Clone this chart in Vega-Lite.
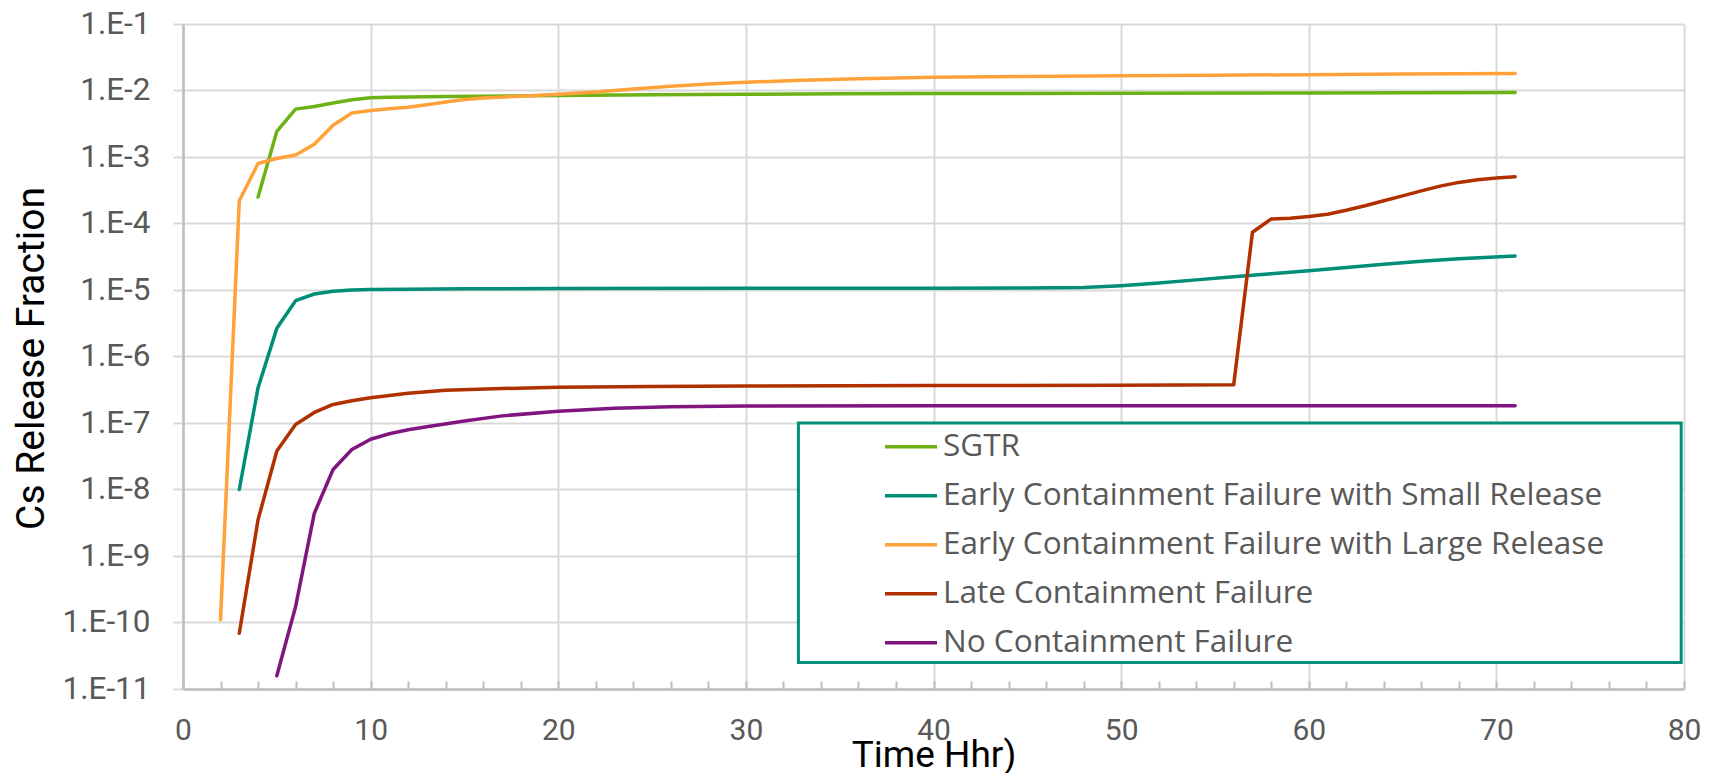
{
  "$schema": "https://vega.github.io/schema/vega-lite/v6.json",
  "width": 1501,
  "height": 665,
  "autosize": {"type": "none"},
  "padding": {"left": 183, "top": 24, "right": 27, "bottom": 84},
  "background": "white",
  "config": {"view": {"stroke": null}, "font": "Roboto"},
  "datasets": {
    "curves": [
      {"s": "SGTR", "t": 4, "v": 2.5e-4},
      {"s": "SGTR", "t": 5, "v": 2.43e-3},
      {"s": "SGTR", "t": 6, "v": 5.25e-3},
      {"s": "SGTR", "t": 7, "v": 5.75e-3},
      {"s": "SGTR", "t": 8, "v": 6.5e-3},
      {"s": "SGTR", "t": 9, "v": 7.25e-3},
      {"s": "SGTR", "t": 10, "v": 7.75e-3},
      {"s": "SGTR", "t": 11, "v": 7.9e-3},
      {"s": "SGTR", "t": 12, "v": 8.0e-3},
      {"s": "SGTR", "t": 14, "v": 8.1e-3},
      {"s": "SGTR", "t": 16, "v": 8.2e-3},
      {"s": "SGTR", "t": 20, "v": 8.4e-3},
      {"s": "SGTR", "t": 25, "v": 8.6e-3},
      {"s": "SGTR", "t": 30, "v": 8.8e-3},
      {"s": "SGTR", "t": 35, "v": 8.9e-3},
      {"s": "SGTR", "t": 40, "v": 9.0e-3},
      {"s": "SGTR", "t": 50, "v": 9.1e-3},
      {"s": "SGTR", "t": 60, "v": 9.2e-3},
      {"s": "SGTR", "t": 71, "v": 9.3e-3},

      {"s": "Early Containment Failure with Small Release", "t": 3, "v": 1.0e-8},
      {"s": "Early Containment Failure with Small Release", "t": 4, "v": 3.4e-7},
      {"s": "Early Containment Failure with Small Release", "t": 5, "v": 2.65e-6},
      {"s": "Early Containment Failure with Small Release", "t": 6, "v": 6.9e-6},
      {"s": "Early Containment Failure with Small Release", "t": 7, "v": 8.7e-6},
      {"s": "Early Containment Failure with Small Release", "t": 8, "v": 9.6e-6},
      {"s": "Early Containment Failure with Small Release", "t": 9, "v": 1.0e-5},
      {"s": "Early Containment Failure with Small Release", "t": 10, "v": 1.02e-5},
      {"s": "Early Containment Failure with Small Release", "t": 12, "v": 1.03e-5},
      {"s": "Early Containment Failure with Small Release", "t": 15, "v": 1.04e-5},
      {"s": "Early Containment Failure with Small Release", "t": 20, "v": 1.05e-5},
      {"s": "Early Containment Failure with Small Release", "t": 30, "v": 1.06e-5},
      {"s": "Early Containment Failure with Small Release", "t": 40, "v": 1.06e-5},
      {"s": "Early Containment Failure with Small Release", "t": 45, "v": 1.07e-5},
      {"s": "Early Containment Failure with Small Release", "t": 48, "v": 1.09e-5},
      {"s": "Early Containment Failure with Small Release", "t": 50, "v": 1.16e-5},
      {"s": "Early Containment Failure with Small Release", "t": 52, "v": 1.27e-5},
      {"s": "Early Containment Failure with Small Release", "t": 54, "v": 1.42e-5},
      {"s": "Early Containment Failure with Small Release", "t": 56, "v": 1.58e-5},
      {"s": "Early Containment Failure with Small Release", "t": 58, "v": 1.75e-5},
      {"s": "Early Containment Failure with Small Release", "t": 60, "v": 1.95e-5},
      {"s": "Early Containment Failure with Small Release", "t": 62, "v": 2.18e-5},
      {"s": "Early Containment Failure with Small Release", "t": 64, "v": 2.43e-5},
      {"s": "Early Containment Failure with Small Release", "t": 66, "v": 2.7e-5},
      {"s": "Early Containment Failure with Small Release", "t": 68, "v": 2.95e-5},
      {"s": "Early Containment Failure with Small Release", "t": 71, "v": 3.24e-5},

      {"s": "Early Containment Failure with Large Release", "t": 2, "v": 1.1e-10},
      {"s": "Early Containment Failure with Large Release", "t": 3, "v": 2.2e-4},
      {"s": "Early Containment Failure with Large Release", "t": 4, "v": 8.0e-4},
      {"s": "Early Containment Failure with Large Release", "t": 5, "v": 9.5e-4},
      {"s": "Early Containment Failure with Large Release", "t": 6, "v": 1.07e-3},
      {"s": "Early Containment Failure with Large Release", "t": 7, "v": 1.55e-3},
      {"s": "Early Containment Failure with Large Release", "t": 8, "v": 3.0e-3},
      {"s": "Early Containment Failure with Large Release", "t": 9, "v": 4.6e-3},
      {"s": "Early Containment Failure with Large Release", "t": 10, "v": 5.0e-3},
      {"s": "Early Containment Failure with Large Release", "t": 11, "v": 5.3e-3},
      {"s": "Early Containment Failure with Large Release", "t": 12, "v": 5.6e-3},
      {"s": "Early Containment Failure with Large Release", "t": 13, "v": 6.1e-3},
      {"s": "Early Containment Failure with Large Release", "t": 14, "v": 6.7e-3},
      {"s": "Early Containment Failure with Large Release", "t": 15, "v": 7.3e-3},
      {"s": "Early Containment Failure with Large Release", "t": 16, "v": 7.7e-3},
      {"s": "Early Containment Failure with Large Release", "t": 18, "v": 8.2e-3},
      {"s": "Early Containment Failure with Large Release", "t": 20, "v": 8.8e-3},
      {"s": "Early Containment Failure with Large Release", "t": 22, "v": 9.5e-3},
      {"s": "Early Containment Failure with Large Release", "t": 24, "v": 1.05e-2},
      {"s": "Early Containment Failure with Large Release", "t": 26, "v": 1.16e-2},
      {"s": "Early Containment Failure with Large Release", "t": 28, "v": 1.25e-2},
      {"s": "Early Containment Failure with Large Release", "t": 30, "v": 1.33e-2},
      {"s": "Early Containment Failure with Large Release", "t": 33, "v": 1.43e-2},
      {"s": "Early Containment Failure with Large Release", "t": 36, "v": 1.5e-2},
      {"s": "Early Containment Failure with Large Release", "t": 40, "v": 1.58e-2},
      {"s": "Early Containment Failure with Large Release", "t": 45, "v": 1.63e-2},
      {"s": "Early Containment Failure with Large Release", "t": 50, "v": 1.66e-2},
      {"s": "Early Containment Failure with Large Release", "t": 55, "v": 1.7e-2},
      {"s": "Early Containment Failure with Large Release", "t": 60, "v": 1.73e-2},
      {"s": "Early Containment Failure with Large Release", "t": 65, "v": 1.77e-2},
      {"s": "Early Containment Failure with Large Release", "t": 71, "v": 1.8e-2},

      {"s": "Late Containment Failure", "t": 3, "v": 6.9e-11},
      {"s": "Late Containment Failure", "t": 4, "v": 3.5e-9},
      {"s": "Late Containment Failure", "t": 5, "v": 3.8e-8},
      {"s": "Late Containment Failure", "t": 6, "v": 9.5e-8},
      {"s": "Late Containment Failure", "t": 7, "v": 1.44e-7},
      {"s": "Late Containment Failure", "t": 8, "v": 1.9e-7},
      {"s": "Late Containment Failure", "t": 9, "v": 2.16e-7},
      {"s": "Late Containment Failure", "t": 10, "v": 2.4e-7},
      {"s": "Late Containment Failure", "t": 12, "v": 2.8e-7},
      {"s": "Late Containment Failure", "t": 14, "v": 3.1e-7},
      {"s": "Late Containment Failure", "t": 17, "v": 3.3e-7},
      {"s": "Late Containment Failure", "t": 20, "v": 3.45e-7},
      {"s": "Late Containment Failure", "t": 25, "v": 3.55e-7},
      {"s": "Late Containment Failure", "t": 30, "v": 3.6e-7},
      {"s": "Late Containment Failure", "t": 40, "v": 3.65e-7},
      {"s": "Late Containment Failure", "t": 50, "v": 3.7e-7},
      {"s": "Late Containment Failure", "t": 56, "v": 3.75e-7},
      {"s": "Late Containment Failure", "t": 57, "v": 7.4e-5},
      {"s": "Late Containment Failure", "t": 58, "v": 1.17e-4},
      {"s": "Late Containment Failure", "t": 59, "v": 1.2e-4},
      {"s": "Late Containment Failure", "t": 60, "v": 1.27e-4},
      {"s": "Late Containment Failure", "t": 61, "v": 1.38e-4},
      {"s": "Late Containment Failure", "t": 62, "v": 1.58e-4},
      {"s": "Late Containment Failure", "t": 63, "v": 1.85e-4},
      {"s": "Late Containment Failure", "t": 64, "v": 2.2e-4},
      {"s": "Late Containment Failure", "t": 65, "v": 2.6e-4},
      {"s": "Late Containment Failure", "t": 66, "v": 3.1e-4},
      {"s": "Late Containment Failure", "t": 67, "v": 3.65e-4},
      {"s": "Late Containment Failure", "t": 68, "v": 4.15e-4},
      {"s": "Late Containment Failure", "t": 69, "v": 4.55e-4},
      {"s": "Late Containment Failure", "t": 70, "v": 4.85e-4},
      {"s": "Late Containment Failure", "t": 71, "v": 5.05e-4},

      {"s": "No Containment Failure", "t": 5, "v": 1.58e-11},
      {"s": "No Containment Failure", "t": 6, "v": 1.73e-10},
      {"s": "No Containment Failure", "t": 7, "v": 4.4e-9},
      {"s": "No Containment Failure", "t": 8, "v": 2.0e-8},
      {"s": "No Containment Failure", "t": 9, "v": 4.0e-8},
      {"s": "No Containment Failure", "t": 10, "v": 5.7e-8},
      {"s": "No Containment Failure", "t": 11, "v": 6.9e-8},
      {"s": "No Containment Failure", "t": 12, "v": 7.9e-8},
      {"s": "No Containment Failure", "t": 13, "v": 8.8e-8},
      {"s": "No Containment Failure", "t": 15, "v": 1.07e-7},
      {"s": "No Containment Failure", "t": 17, "v": 1.28e-7},
      {"s": "No Containment Failure", "t": 20, "v": 1.5e-7},
      {"s": "No Containment Failure", "t": 23, "v": 1.67e-7},
      {"s": "No Containment Failure", "t": 26, "v": 1.75e-7},
      {"s": "No Containment Failure", "t": 30, "v": 1.8e-7},
      {"s": "No Containment Failure", "t": 40, "v": 1.81e-7},
      {"s": "No Containment Failure", "t": 50, "v": 1.82e-7},
      {"s": "No Containment Failure", "t": 60, "v": 1.82e-7},
      {"s": "No Containment Failure", "t": 71, "v": 1.82e-7}
    ]
  },
  "layer": [
    {
      "data": {"name": "curves"},
      "mark": {"type": "line", "strokeWidth": 3.5, "strokeCap": "round", "strokeJoin": "round"},
      "encoding": {
        "x": {
          "field": "t",
          "type": "quantitative",
          "scale": {"domain": [0, 80], "nice": false, "zero": false},
          "axis": {
            "values": [0,2,4,6,8,10,12,14,16,18,20,22,24,26,28,30,32,34,36,38,40,42,44,46,48,50,52,54,56,58,60,62,64,66,68,70,72,74,76,78,80],
            "tickCount": 100,
            "labelExpr": "datum.value % 10 === 0 ? datum.label : ''",
            "labelOverlap": false,
            "labelFlush": false,
            "labelFont": "Roboto",
            "labelFontSize": 30,
            "labelColor": "#595959",
            "labelPadding": 34,
            "tickSize": -8,
            "tickColor": "#bfbfbf",
            "tickWidth": 2,
            "grid": true,
            "gridColor": "#d9d9d9",
            "gridWidth": 2,
            "gridOpacity": {"condition": {"test": "datum.value % 10 === 0", "value": 1}, "value": 0},
            "domainColor": "#bfbfbf",
            "domainWidth": 2.5,
            "title": "Time Hhr)",
            "titleFont": "Roboto",
            "titleFontSize": 37,
            "titleFontWeight": "normal",
            "titleColor": "#000000",
            "titleBaseline": "top",
            "titleY": 48
          }
        },
        "y": {
          "field": "v",
          "type": "quantitative",
          "scale": {"type": "log", "domain": [1e-11, 0.1], "nice": false},
          "axis": {
            "values": [1e-11, 1e-10, 1e-9, 1e-8, 1e-7, 1e-6, 1e-5, 1e-4, 1e-3, 1e-2, 1e-1],
            "tickCount": 100,
            "labelExpr": "'1.E-' + round(-log(datum.value) / LN10)",
            "labelOverlap": false,
            "labelFlush": false,
            "labelFont": "Roboto",
            "labelFontSize": 31.5,
            "labelColor": "#595959",
            "labelPadding": 23,
            "tickSize": 10,
            "tickColor": "#d9d9d9",
            "tickWidth": 2,
            "grid": true,
            "gridColor": "#d9d9d9",
            "gridWidth": 2,
            "domainColor": "#bfbfbf",
            "domainWidth": 2.5,
            "title": "Cs Release Fraction",
            "titleFont": "Roboto",
            "titleFontSize": 39,
            "titleFontWeight": "normal",
            "titleColor": "#000000",
            "titleAngle": -90,
            "titleBaseline": "middle",
            "titleX": -152,
            "titleY": 334
          }
        },
        "color": {
          "field": "s",
          "type": "nominal",
          "scale": {
            "domain": ["SGTR", "Early Containment Failure with Small Release", "Early Containment Failure with Large Release", "Late Containment Failure", "No Containment Failure"],
            "range": ["#6db214", "#008f76", "#ffa23a", "#b03000", "#80157f"]
          },
          "legend": {
            "orient": "none",
            "legendX": 700,
            "legendY": 398.5,
            "title": null,
            "padding": 0,
            "symbolType": "stroke",
            "symbolSize": 2704,
            "symbolStrokeWidth": 3.5,
            "labelFont": "Open Sans",
            "labelFontSize": 31.5,
            "labelColor": "#595959",
            "labelOffset": 4,
            "labelLimit": 900,
            "clipHeight": 48.3,
            "rowPadding": 0
          }
        }
      }
    },
    {
      "data": {"values": [{}]},
      "mark": {"type": "rect", "fill": "white", "stroke": "#008f76", "strokeWidth": 3},
      "encoding": {
        "x": {"datum": 32.8, "type": "quantitative"},
        "x2": {"datum": 79.85},
        "y": {"datum": 1e-7, "type": "quantitative"},
        "y2": {"datum": 2.5e-11}
      }
    }
  ]
}
